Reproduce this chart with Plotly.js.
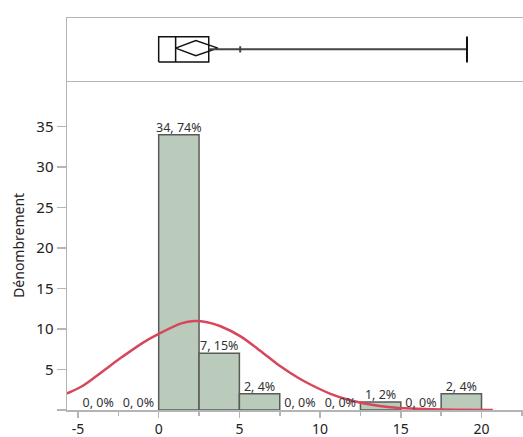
<!DOCTYPE html>
<html>
<head>
<meta charset="utf-8">
<script src="https://cdn.plot.ly/plotly-3.0.1.min.js"></script>
<style>html,body{margin:0;padding:0;background:#fff}#chart{width:523px;height:437px}</style>
</head>
<body>
<div id="chart"></div>
<script>
// Histogram bins (centers) and counts
const binCenters = [-3.75, -1.25, 1.25, 3.75, 6.25, 8.75, 11.25, 13.75, 16.25, 18.75];
const binCounts  = [0, 0, 34, 7, 2, 0, 0, 1, 0, 2];
const binLabels  = ["0, 0%", "0, 0%", "34, 74%", "7, 15%", "2, 4%", "0, 0%", "0, 0%", "1, 2%", "0, 0%", "2, 4%"];
const binWidth = 2.5;

// Normal density curve
const curveX = [-5.68, -4.7, -3.46, -2.23, -0.99, 0, 1.4, 2.2, 3.0, 3.83, 5.07, 6.31, 7.54, 8.66, 9.4, 10.64, 11.87, 13.1, 14.35, 15.6, 17.5, 20.7];
const curveY = [2.04, 3.0, 4.8, 6.6, 8.3, 9.4, 10.7, 11.0, 10.85, 10.35, 9.1, 7.3, 5.4, 3.95, 3.15, 2.0, 1.2, 0.68, 0.35, 0.18, 0.06, 0.01];

// Box plot statistics
const boxQ1 = 0;
const boxMedian = 1.05;
const boxQ3 = 3.1;
const whiskerHigh = 19.1;
const innerTick = 5.05;
const meanValue = 2.3;
const meanCILow = 1.05;
const meanCIHigh = 3.67;

// Tick labels
const xTicks = [-5, 0, 5, 10, 15, 20];
const yTicks = [0, 5, 10, 15, 20, 25, 30, 35];
const yTickText = ["", "5", "10", "15", "20", "25", "30", "35"];

const FONT = "Noto Sans, Open Sans, sans-serif";
const AX = "#b4b4b4";

const traces = [];
traces.push({
  type: "bar", x: binCenters, y: binCounts.map(v => v === 0 ? null : v), width: binWidth,
  marker: {color: "#bacbbc", line: {color: "#585c58", width: 1.5}},
  xaxis: "x", yaxis: "y", hoverinfo: "skip"
});
traces.push({
  type: "scatter", mode: "lines", x: curveX, y: curveY,
  line: {color: "#d8465b", width: 2.5, shape: "spline", smoothing: 0.8},
  xaxis: "x", yaxis: "y", hoverinfo: "skip"
});
traces.push({
  type: "scatter", mode: "text", x: binCenters, y: binCounts, text: binLabels,
  textposition: "top center", textfont: {family: FONT, size: 12.5, color: "#333"},
  marker: {size: 11},
  cliponaxis: false, xaxis: "x", yaxis: "y", hoverinfo: "skip"
});
// Box
const bt = 0.703, bb = 0.297, mid = 0.5;
traces.push({
  type: "scatter", mode: "lines",
  x: [boxQ1, boxQ3, boxQ3, boxQ1, boxQ1, null, boxMedian, boxMedian],
  y: [bb, bb, bt, bt, bb, null, bb, bt],
  line: {color: "#111", width: 1.5}, xaxis: "x2", yaxis: "y2", hoverinfo: "skip"
});
// Diamond
traces.push({
  type: "scatter", mode: "lines",
  x: [meanCILow, meanValue, meanCIHigh, meanValue, meanCILow],
  y: [0.52, 0.64, 0.52, 0.40, 0.52],
  line: {color: "#111", width: 1.5}, xaxis: "x2", yaxis: "y2", hoverinfo: "skip"
});
// Whisker
traces.push({
  type: "scatter", mode: "lines",
  x: [boxQ3, whiskerHigh, null, innerTick, innerTick],
  y: [mid, mid, null, 0.45, 0.55],
  line: {color: "#444", width: 2}, xaxis: "x2", yaxis: "y2", hoverinfo: "skip"
});
traces.push({
  type: "scatter", mode: "lines",
  x: [whiskerHigh, whiskerHigh], y: [0.29, 0.705],
  line: {color: "#111", width: 2}, xaxis: "x2", yaxis: "y2", hoverinfo: "skip"
});

const xr = [-5.68, 22.57];
const split = 0.84;
const layout = {
  width: 523, height: 437,
  margin: {l: 67, r: 0, t: 18, b: 27, pad: 0},
  paper_bgcolor: "#fff", plot_bgcolor: "#fff",
  showlegend: false,
  font: {family: FONT, color: "#222"},
  xaxis: {
    domain: [0, 1], range: xr, anchor: "y",
    showline: true, linecolor: AX, linewidth: 1.5,
    showgrid: false, zeroline: false,
    ticks: "outside", ticklen: 6, tickwidth: 1.5, tickcolor: AX,
    tickvals: xTicks, ticktext: xTicks.map(String),
    tickfont: {family: FONT, size: 14, color: "#222"},
    minor: {dtick: 2.5, tick0: 0, ticks: "outside", ticklen: 4, tickwidth: 1.5, tickcolor: AX, showgrid: false}
  },
  yaxis: {
    domain: [0, split], range: [0, 40.68], anchor: "x",
    showline: true, linecolor: AX, linewidth: 1.5,
    showgrid: false, zeroline: false,
    ticks: "outside", ticklen: 9, tickwidth: 1.5, tickcolor: AX,
    tickvals: yTicks, ticktext: yTickText,
    tickfont: {family: FONT, size: 15, color: "#222"},
    title: {text: "Dénombrement", font: {family: FONT, size: 14, color: "#222"}, standoff: 8}
  },
  xaxis2: {
    domain: [0, 1], range: xr, anchor: "y2",
    showline: true, mirror: true, linecolor: AX, linewidth: 1.5,
    showgrid: false, zeroline: false, showticklabels: false, ticks: ""
  },
  yaxis2: {
    domain: [split, 1], range: [0, 1], anchor: "x2",
    showline: true, linecolor: AX, linewidth: 1.5,
    showgrid: false, zeroline: false, showticklabels: false, ticks: ""
  }
};

Plotly.newPlot("chart", traces, layout, {staticPlot: true, displayModeBar: false});
</script>
</body>
</html>
